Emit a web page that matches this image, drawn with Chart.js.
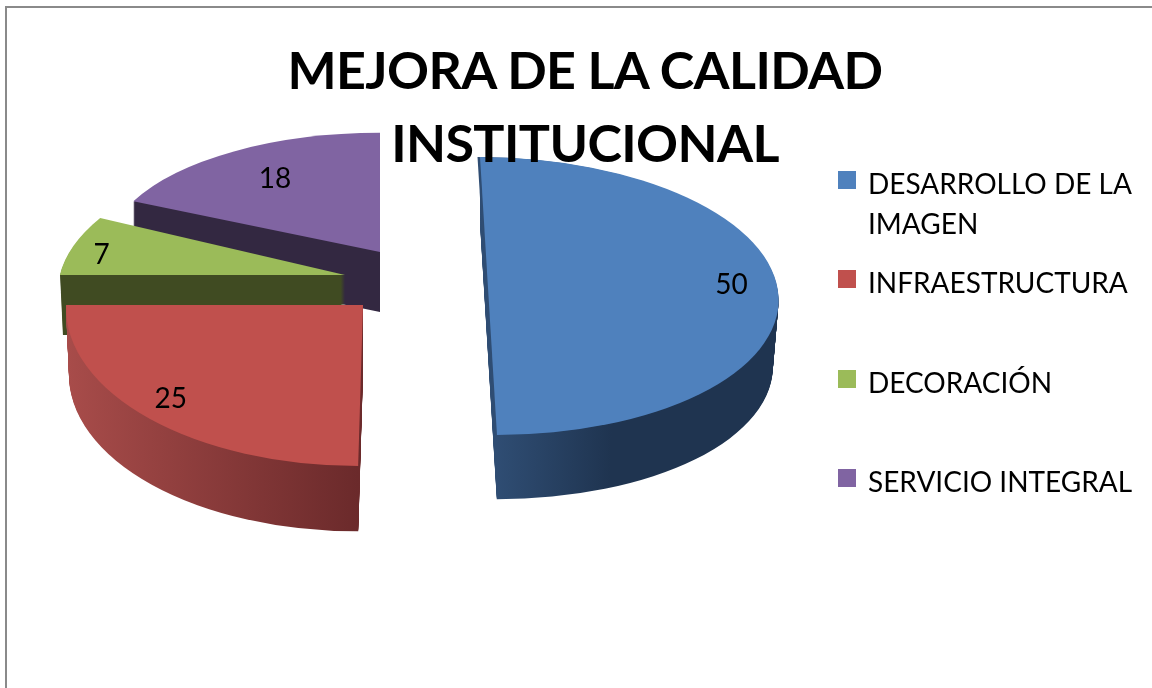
<!DOCTYPE html>
<html>
<head>
<meta charset="utf-8">
<title>Mejora de la calidad institucional</title>
<script src="https://cdn.jsdelivr.net/npm/chart.js@4/dist/chart.umd.min.js"></script>
<style>
    html, body { margin: 0; padding: 0; background: #fff; }
    #wrap { position: relative; width: 1152px; height: 688px; overflow: hidden; font-family: Lato, sans-serif; color: #000; }
    #frame { position: absolute; left: 5px; top: 6px; width: 1160px; height: 700px; border: 2px solid #8a8a8a; }
    #chart { position: absolute; left: 0; top: 0; }
    #title { position: absolute; left: 185px; top: 33px; width: 800px; text-align: center; font-weight: 700; font-size: 52px; line-height: 73px; letter-spacing: -0.6px; }
    .item { position: absolute; left: 838px; font-size: 28px; line-height: 40px; width: 314px; white-space: nowrap; }
    .swatch { position: absolute; left: 0; top: 0; width: 18px; height: 18px; }
    .text { position: absolute; left: 30px; top: -8px; }
</style>
</head>
<body>
<div id="wrap">
    <div id="frame"></div>
    <canvas id="chart" width="1152" height="688"></canvas>
    <div id="title">MEJORA DE LA CALIDAD<br>INSTITUCIONAL</div>
    <div id="legend"></div>
</div>
<script>
const categories = ["DESARROLLO DE LA IMAGEN", "INFRAESTRUCTURA", "DECORACIÓN", "SERVICIO INTEGRAL"];
const legendLines = [["DESARROLLO DE LA", "IMAGEN"], ["INFRAESTRUCTURA"], ["DECORACIÓN"], ["SERVICIO INTEGRAL"]];
const values = [50, 25, 7, 18];
const topColors = ["#4f81bd", "#c0504d", "#9bbb59", "#8064a2"];

// ---------------- 3D LOOK ----------------

const pieRadius = 290;
const centerX = 390;
const centerY = 296;
const shiftX = [98.5, -27, -45, -10];
const shiftY = [0, 9, -21, -44];
const radiusScale = [1, 1.024, 0.983, 0.94];
const squash = [0.479, 0.542, 0.47, 0.437];
const lean = [0.061, -0.03, -0.23, 0];
const wallDepth = [67, 67, 60, 60];
const wallTaper = [0.98, 0.99, 0.99, 1];
const wallFrom = ["#2f4d73", "#a84c4a", "#404b22", "#332841"];
const wallTo = ["#1f3450", "#6b2a2b", "#404b22", "#332841"];
const wallStart = [0, -1, -1, -1];
const wallEnd = [0.4, 0, 1, 1];
const edgeShift = [2.5, 0, 0, 0];
const drawOrder = [3, 2, 1, 0];
const labelFrac = [0.845, 0.86, 0.885, 0.73];
const labelTurn = [-0.1, 0.05, -0.04, 0.01];
const labelDrop = 1;
const legendTops = [171, 270, 370, 469];

function placeSlice(ctx, arc, i, drop, taper) {
    ctx.translate(centerX + shiftX[i], centerY + shiftY[i] + drop);
    ctx.transform(1, 0, lean[i], 1, 0, 0);
    const s = radiusScale[i] * taper;
    ctx.scale(s, s * squash[i]);
    ctx.translate(-arc.x, -arc.y);
}

function fillSlice(ctx, arc, fill) {
    const saved = arc.options;
    arc.options = Object.assign({}, saved, { backgroundColor: fill, borderWidth: 0 });
    arc.draw(ctx);
    arc.options = saved;
}

const pie3d = {
    id: "pie3d",
    beforeDatasetsDraw(chart) {
        const ctx = chart.ctx;
        const arcs = chart.getDatasetMeta(0).data;

        drawOrder.forEach(i => {
            const arc = arcs[i];

            // side wall, stacked from the bottom up
            const grad = ctx.createLinearGradient(
                arc.x + wallStart[i] * pieRadius, 0,
                arc.x + wallEnd[i] * pieRadius, 0
            );
            grad.addColorStop(0, wallFrom[i]);
            grad.addColorStop(1, wallTo[i]);

            for (let k = wallDepth[i]; k >= 1; k--) {
                const taper = 1 - (1 - wallTaper[i]) * k / wallDepth[i];
                ctx.save();
                placeSlice(ctx, arc, i, k, taper);
                fillSlice(ctx, arc, grad);
                ctx.restore();
            }

            // thin back edge on the big slice, then the top face
            if (edgeShift[i] > 0) {
                ctx.save();
                ctx.translate(-edgeShift[i], 0);
                placeSlice(ctx, arc, i, 0, 1);
                fillSlice(ctx, arc, wallFrom[i]);
                ctx.restore();
            }

            ctx.save();
            placeSlice(ctx, arc, i, 0, 1);
            fillSlice(ctx, arc, topColors[i]);
            ctx.restore();
        });

        // ---------------- VALUE LABELS ----------------

        ctx.save();
        ctx.font = "28px Lato";
        ctx.fillStyle = "#000";
        ctx.textAlign = "center";
        ctx.textBaseline = "middle";

        arcs.forEach((arc, i) => {
            const mid = (arc.startAngle + arc.endAngle) / 2 + labelTurn[i];
            const r = pieRadius * radiusScale[i] * labelFrac[i];
            const ly = Math.sin(mid) * r * squash[i];
            const lx = Math.cos(mid) * r + lean[i] * ly;
            ctx.fillText(String(values[i]), centerX + shiftX[i] + lx, centerY + shiftY[i] + ly + labelDrop);
        });

        ctx.restore();
        return false;
    }
};

new Chart(
    document.getElementById("chart"),
    {
        type: "pie",
        data: {
            labels: categories,
            datasets: [{
                data: values,
                backgroundColor: topColors,
                borderWidth: 0
            }]
        },
        options: {
            responsive: false,
            animation: false,
            events: [],
            radius: pieRadius,
            layout: { padding: 0 },
            plugins: {
                legend: { display: false },
                tooltip: { enabled: false }
            }
        },
        plugins: [pie3d]
    }
);

// ---------------- LEGEND ----------------

const legend = document.getElementById("legend");

legendLines.forEach((lines, i) => {
    legend.innerHTML += `
        <div class="item" style="top:${legendTops[i]}px">
            <div class="swatch" style="background:${topColors[i]}"></div>
            <div class="text">${lines.join("<br>")}</div>
        </div>
    `;
});
</script>
</body>
</html>
